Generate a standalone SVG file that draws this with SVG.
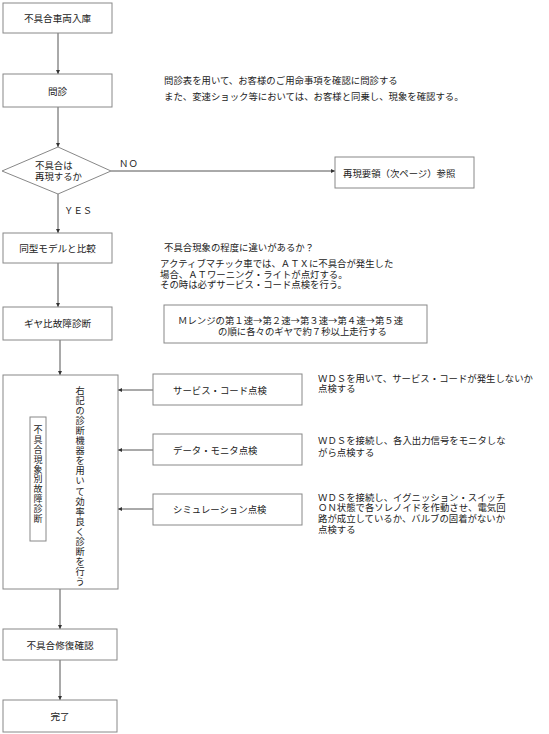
<svg xmlns="http://www.w3.org/2000/svg" width="549" height="734" viewBox="0 0 549 734">
<style>
text{font-family:"Noto Sans CJK JP","Noto Sans CJK SC",sans-serif;fill:#222;font-size:9.4px}
.lbl{font-size:9.6px;text-anchor:middle}
.box{fill:#fff;stroke:#888;stroke-width:1}
.ln{stroke:#555;stroke-width:1;fill:none}
.vt{font-size:9.2px;text-anchor:middle}
</style>
<defs>
<marker id="ah" markerWidth="4" markerHeight="4" refX="4" refY="2" orient="auto" markerUnits="userSpaceOnUse">
<path d="M0,0 L4,2 L0,4 Z" fill="#333"/>
</marker>
</defs>
<rect width="549" height="734" fill="#fff"/>
<g id="connectors">
<line class="ln" x1="58" y1="33" x2="58" y2="74" marker-end="url(#ah)"/>
<line class="ln" x1="58" y1="107" x2="58" y2="147" marker-end="url(#ah)"/>
<line class="ln" x1="111" y1="171" x2="335" y2="171" marker-end="url(#ah)"/>
<line class="ln" x1="58" y1="194" x2="58" y2="233" marker-end="url(#ah)"/>
<line class="ln" x1="58" y1="263" x2="58" y2="307" marker-end="url(#ah)"/>
<line class="ln" x1="60" y1="340" x2="60" y2="375" marker-end="url(#ah)"/>
<line class="ln" x1="153" y1="390" x2="118" y2="390" marker-end="url(#ah)"/>
<line class="ln" x1="153" y1="450" x2="118" y2="450" marker-end="url(#ah)"/>
<line class="ln" x1="153" y1="509" x2="118" y2="509" marker-end="url(#ah)"/>
<line class="ln" x1="60" y1="589" x2="60" y2="629" marker-end="url(#ah)"/>
<line class="ln" x1="60" y1="660" x2="60" y2="700" marker-end="url(#ah)"/>
<text x="119" y="166.5">ＮＯ</text>
<text x="64" y="213.5">ＹＥＳ</text>
</g>
<g id="n1"><rect class="box" x="3" y="3" width="109" height="30"/><text class="lbl" x="57.5" y="21.5">不具合車両入庫</text></g>
<g id="n2"><rect class="box" x="3" y="74" width="109" height="33"/><text class="lbl" x="57.5" y="94.5">問診</text></g>
<g id="n2note"><text x="164" y="83.5">問診表を用いて、お客様のご用命事項を確認に問診する</text><text x="164" y="99.5">また、変速ショック等においては、お客様と同乗し、現象を確認する。</text></g>
<g id="n3"><polygon class="box" points="2,171 58,147 111,171 58,194"/><text x="35" y="168.5">不具合は</text><text x="35" y="179.5">再現するか</text></g>
<g id="n4"><rect class="box" x="335" y="157" width="139" height="31"/><text x="343" y="176.5">再現要領（次ページ）参照</text></g>
<g id="n5"><rect class="box" x="3" y="233" width="109" height="30"/><text class="lbl" x="57.5" y="251.5">同型モデルと比較</text></g>
<g id="n5note"><text x="164" y="250.5">不具合現象の程度に違いがあるか？</text><text x="160" y="267">アクティブマチック車では、ＡＴＸに不具合が発生した</text><text x="160" y="278">場合、ＡＴワーニング・ライトが点灯する。</text><text x="160" y="288">その時は必ずサービス・コード点検を行う。</text></g>
<g id="n6"><rect class="box" x="3" y="307" width="109" height="33"/><text class="lbl" x="57.5" y="326.5">ギヤ比故障診断</text></g>
<g id="n7"><rect class="box" x="164" y="305" width="263" height="38"/><text x="178" y="323.5">Ｍレンジの第１速→第２速→第３速→第４速→第５速</text><text x="218" y="334.5">の順に各々のギヤで約７秒以上走行する</text></g>
<g id="n8"><rect class="box" x="3" y="375" width="115" height="214"/>
<text class="vt"><tspan x="80" y="393.5">右</tspan><tspan x="80" y="403.6">記</tspan><tspan x="80" y="413.7">の</tspan><tspan x="80" y="423.8">診</tspan><tspan x="80" y="433.9">断</tspan><tspan x="80" y="444">機</tspan><tspan x="80" y="454.1">器</tspan><tspan x="80" y="464.2">を</tspan><tspan x="80" y="474.3">用</tspan><tspan x="80" y="484.4">い</tspan><tspan x="80" y="494.5">て</tspan><tspan x="80" y="504.6">効</tspan><tspan x="80" y="514.7">率</tspan><tspan x="80" y="524.8">良</tspan><tspan x="80" y="534.9">く</tspan><tspan x="80" y="545">診</tspan><tspan x="80" y="555.1">断</tspan><tspan x="80" y="565.2">を</tspan><tspan x="80" y="575.3">行</tspan><tspan x="80" y="585.4">う</tspan></text>
<rect class="box" x="30" y="417" width="16" height="124"/>
<text class="vt" style="font-size:9px"><tspan x="38" y="433.3">不</tspan><tspan x="38" y="443.1">具</tspan><tspan x="38" y="452.9">合</tspan><tspan x="38" y="462.7">現</tspan><tspan x="38" y="472.5">象</tspan><tspan x="38" y="482.3">別</tspan><tspan x="38" y="492.1">故</tspan><tspan x="38" y="501.9">障</tspan><tspan x="38" y="511.7">診</tspan><tspan x="38" y="521.5">断</tspan></text></g>
<g id="n9"><rect class="box" x="153" y="374" width="149" height="31"/><text x="173" y="393.5">サービス・コード点検</text></g>
<g id="n9note"><text x="318" y="381.5">ＷＤＳを用いて、サービス・コードが発生しないか</text><text x="318" y="392">点検する</text></g>
<g id="n10"><rect class="box" x="153" y="434" width="149" height="31"/><text x="173" y="453.5">データ・モニタ点検</text></g>
<g id="n10note"><text x="318" y="443.5">ＷＤＳを接続し、各入出力信号をモニタしな</text><text x="318" y="455.5">がら点検する</text></g>
<g id="n11"><rect class="box" x="153" y="494" width="149" height="31"/><text x="173" y="512.5">シミュレーション点検</text></g>
<g id="n11note"><text x="318" y="500.5">ＷＤＳを接続し、イグニッション・スイッチ</text><text x="318" y="511.2">ＯＮ状態で各ソレノイドを作動させ、電気回</text><text x="318" y="521.9">路が成立しているか、バルブの固着がないか</text><text x="318" y="532.6">点検する</text></g>
<g id="n12"><rect class="box" x="3" y="629" width="114" height="31"/><text class="lbl" x="60" y="648.5">不具合修復確認</text></g>
<g id="n13"><rect class="box" x="3" y="700" width="114" height="32"/><text class="lbl" x="60" y="719.5">完了</text></g>
</svg>
